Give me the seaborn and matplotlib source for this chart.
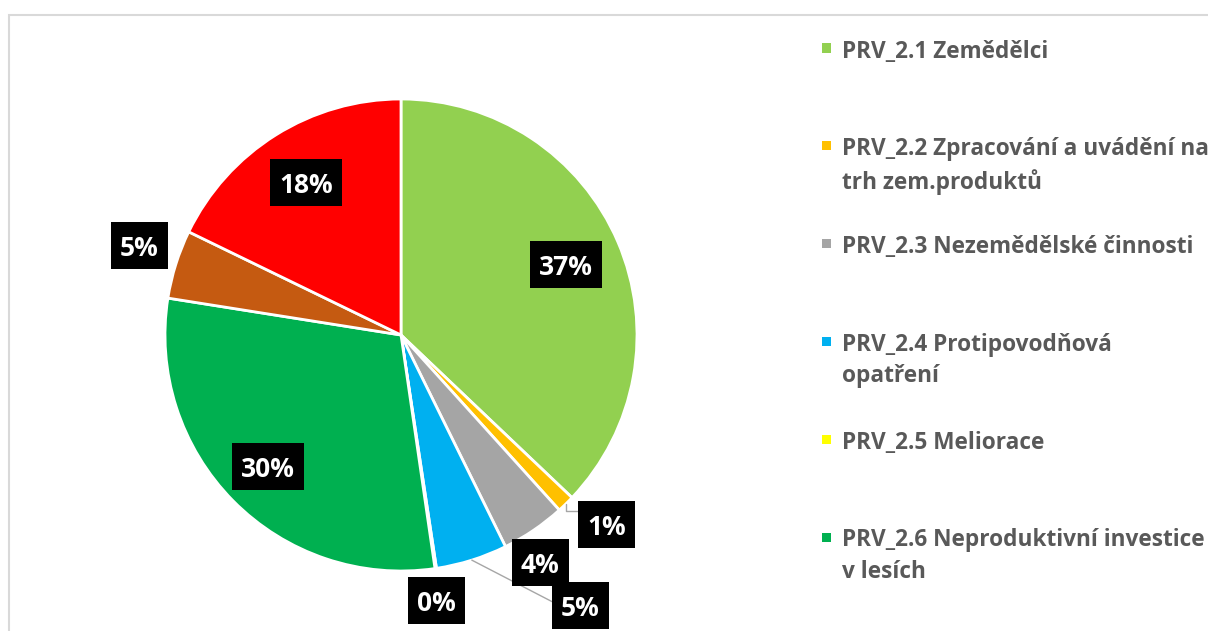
import numpy as np
import matplotlib
matplotlib.use("Agg")
import matplotlib.pyplot as plt
import seaborn as sns
from matplotlib.patches import Rectangle
from matplotlib.transforms import ScaledTranslation

# Data (share of funds, %)
categories = ["PRV_2.1 Zemědělci",
              "PRV_2.2 Zpracování a uvádění na\ntrh zem.produktů",
              "PRV_2.3 Nezemědělské činnosti",
              "PRV_2.4 Protipovodňová\nopatření",
              "PRV_2.5 Meliorace",
              "PRV_2.6 Neproduktivní investice\nv lesích",
              "PRV_2.7",
              "PRV_2.8"]
shares = [37.1, 1.2, 4.4, 4.9, 0.1, 29.8, 4.7, 17.8]
colors = ["#92D050", "#FFC000", "#A5A5A5", "#00B0F0",
          "#FFFF00", "#00B050", "#C55A11", "#FF0000"]
visible_legend_rows = 6   # the rest is cut off in the original

sns.set_theme(style="white")
plt.rcParams['font.family'] = ['Open Sans', 'DejaVu Sans']

W, H = 1208, 631
fig = plt.figure(figsize=(W / 100, H / 100), dpi=100)

def px(x, y):
    return x / W, 1 - y / H

# light chart-area border
fig.patches.append(Rectangle(px(8.5, 700), (1300) / W, (700 - 14.5) / H,
                             transform=fig.transFigure, fill=False,
                             edgecolor="#D9D9D9", linewidth=1.5))

# pie: centre (401, 335), radius 236 px
cx, cy, r = 401, 335, 236
ax = fig.add_axes([(cx - r) / W, (H - cy - r) / H, 2 * r / W, 2 * r / H])
palette = sns.color_palette(colors)
wedges, _ = ax.pie(shares, colors=palette, startangle=90, counterclock=False,
                   wedgeprops=dict(edgecolor="white", linewidth=2))
ax.set_xlim(-1, 1)
ax.set_ylim(-1, 1)
ax.axis("off")

# label positions (in pie radius units)
inside_r = {0: 0.76, 5: 0.79, 7: 0.76}
outside = {1: (0.87, -0.805), 2: (0.59, -0.965), 3: (0.76, -1.145),
           4: (0.15, -1.125), 6: (-1.11, 0.38)}

cum = np.cumsum([0] + shares)
for i, v in enumerate(shares):
    mid = np.deg2rad((cum[i] + cum[i + 1]) / 2 / 100 * 360)
    if i in inside_r:
        x, y = inside_r[i] * np.sin(mid), inside_r[i] * np.cos(mid)
    else:
        x, y = outside[i]
    lbl = f"{round(v)}%"
    w = 0.72 if len(lbl) == 3 else 0.57   # box size in inches (dpi 100)
    tr = fig.dpi_scale_trans + ScaledTranslation(x, y, ax.transData)
    ax.add_patch(Rectangle((-w / 2, -0.235), w, 0.47, transform=tr,
                           facecolor="black", edgecolor="none", zorder=4, clip_on=False))
    ax.text(x, y, lbl, ha="center", va="center_baseline", fontsize=19,
            fontweight="bold", color="white", zorder=5, clip_on=False)

# leader lines
def mid_point(i):
    m = np.deg2rad((cum[i] + cum[i + 1]) / 2 / 100 * 360)
    return np.sin(m), np.cos(m)

x0, y0 = mid_point(1)
ax.plot([x0, x0, 0.76], [y0, -0.745, -0.745], color="#A6A6A6", lw=1, clip_on=False, zorder=3)
x0, y0 = mid_point(3)
ax.plot([x0, 0.65, 0.72], [y0, -1.135, -1.135], color="#A6A6A6", lw=1, clip_on=False, zorder=3)

# legend (manual, rows spaced like the original)
for k in range(visible_legend_rows):
    yc = 48 + 97.8 * k
    fig.patches.append(Rectangle(px(822, yc + 4.5), 9 / W, 9 / H,
                                 transform=fig.transFigure, facecolor=colors[k],
                                 edgecolor="none"))
    fig.text(*px(842, yc - 8.5), categories[k], ha="left", va="top",
             fontsize=16.3, fontweight="bold", color="#595959", linespacing=1.4)

fig.savefig("out.png", dpi=100)
